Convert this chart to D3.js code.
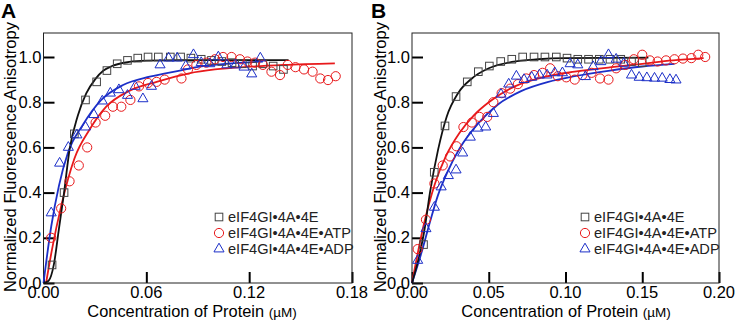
<!DOCTYPE html>
<html>
<head>
<meta charset="utf-8">
<script src="https://cdnjs.cloudflare.com/ajax/libs/d3/7.8.5/d3.min.js"></script>
<style>
  body { margin: 0; background: #fff; }
  text { font-family: Arial, "Liberation Sans", sans-serif; }
</style>
</head>
<body>
<svg id="chart" width="735" height="321"></svg>
<script>
"use strict";

// ---- data: [concentration (uM), anisotropy] ----

// panel A
var a_square = [[0.005,0.08],[0.012,0.40],[0.018,0.66],[0.0245,0.81],[0.031,0.89],[0.037,0.94],
    [0.043,0.97],[0.049,0.985],[0.055,0.995],[0.061,1.0],[0.067,1.0],[0.074,1.0],[0.080,1.0],
    [0.086,0.995],[0.092,0.99],[0.098,0.985],[0.104,0.98],[0.110,0.975],[0.116,0.97],
    [0.122,0.96],[0.128,0.97],[0.134,0.96],[0.140,0.945]];
var a_circle = [[0.0045,0.20],[0.0103,0.33],[0.0152,0.45],[0.0206,0.52],[0.0255,0.60],[0.0304,0.71],
    [0.036,0.74],[0.0405,0.78],[0.0454,0.78],[0.0507,0.81],[0.0557,0.87],[0.061,0.885],[0.066,0.89],
    [0.0707,0.90],[0.0805,0.905],[0.0843,0.945],[0.0892,0.965],[0.095,0.975],[0.100,0.99],
    [0.1048,1.0],[0.1097,1.0],[0.1146,0.99],[0.119,0.98],[0.1235,0.975],[0.128,0.965],[0.133,0.935],
    [0.138,0.92],[0.1425,0.965],[0.147,0.955],[0.152,0.945],[0.157,0.935],[0.1615,0.905],
    [0.166,0.898],[0.1705,0.915]];
var a_triangle = [[0.0045,0.31],[0.0094,0.53],[0.0145,0.60],[0.0195,0.655],[0.0245,0.69],[0.0294,0.745],
    [0.0343,0.805],[0.039,0.84],[0.044,0.855],[0.049,0.83],[0.0535,0.87],[0.058,0.815],[0.063,0.87],
    [0.068,0.965],[0.073,0.995],[0.078,0.995],[0.083,0.96],[0.0875,1.01],[0.092,0.975],[0.097,0.97],
    [0.102,1.0],[0.107,0.965],[0.112,0.965],[0.117,0.955],[0.1215,0.925],[0.1265,0.995]];
var a_fit_square = [[0,0],[0.003,0.01],[0.006,0.08],[0.009,0.24],[0.012,0.40],[0.0152,0.59],[0.02,0.74],
    [0.025,0.84],[0.03,0.90],[0.035,0.94],[0.04,0.96],[0.05,0.978],[0.06,0.984],[0.08,0.986],[0.143,0.986]];
var a_fit_circle = [[0.0015,0],[0.005,0.15],[0.0103,0.34],[0.018,0.55],[0.027,0.68],[0.0366,0.78],
    [0.05,0.85],[0.066,0.89],[0.085,0.928],[0.1,0.945],[0.12,0.957],[0.14,0.965],[0.17,0.972]];
var a_fit_triangle = [[0,0],[0.0045,0.25],[0.009,0.43],[0.0142,0.575],[0.023,0.70],[0.0337,0.81],
    [0.0464,0.876],[0.062,0.913],[0.0795,0.94],[0.091,0.957],[0.11,0.972],[0.128,0.98]];

// panel B
var b_square = [[0.0075,0.17],[0.0145,0.49],[0.0215,0.695],[0.0287,0.825],[0.036,0.89],[0.0432,0.935],
    [0.0504,0.96],[0.0578,0.98],[0.065,0.99],[0.0721,1.0],[0.0795,1.0],[0.0866,1.0],[0.094,1.0],
    [0.101,0.995],[0.108,0.99],[0.115,0.99],[0.122,0.99],[0.129,0.99],[0.136,0.99],[0.143,0.98],
    [0.150,0.975]];
var b_circle = [[0.0037,0.15],[0.0091,0.28],[0.0146,0.44],[0.020,0.52],[0.0248,0.56],[0.029,0.605],
    [0.0335,0.69],[0.039,0.71],[0.044,0.735],[0.049,0.735],[0.053,0.80],[0.0584,0.84],[0.064,0.86],
    [0.069,0.88],[0.0745,0.905],[0.0795,0.92],[0.085,0.93],[0.090,0.95],[0.095,0.915],[0.1005,0.91],
    [0.106,0.90],[0.111,0.92],[0.117,0.93],[0.1225,0.905],[0.128,0.90],[0.133,0.95],[0.139,0.965],
    [0.1445,0.99],[0.150,1.01],[0.155,0.985],[0.160,0.98],[0.1655,0.985],[0.171,0.99],[0.1765,0.993],
    [0.182,0.995],[0.1865,1.01],[0.191,1.0]];
var b_triangle = [[0.0037,0.10],[0.0091,0.24],[0.0146,0.335],[0.019,0.425],[0.0237,0.475],[0.0287,0.50],
    [0.033,0.575],[0.038,0.645],[0.043,0.685],[0.048,0.69],[0.053,0.75],[0.058,0.835],[0.063,0.88],
    [0.068,0.915],[0.073,0.90],[0.078,0.91],[0.083,0.92],[0.088,0.92],[0.093,0.93],[0.098,0.93],
    [0.103,0.97],[0.108,0.965],[0.113,0.913],[0.118,0.957],[0.123,0.979],[0.128,1.01],[0.133,0.99],
    [0.138,0.972],[0.143,0.92],[0.148,0.91],[0.153,0.908],[0.158,0.906],[0.163,0.906],[0.168,0.90],
    [0.172,0.898]];
var b_fit_square = [[0,0],[0.004,0.10],[0.008,0.23],[0.0117,0.40],[0.017,0.59],[0.0226,0.736],[0.03,0.84],
    [0.039,0.905],[0.05,0.95],[0.065,0.978],[0.082,0.99],[0.10,0.995],[0.154,0.997]];
var b_fit_circle = [[0,0],[0.0074,0.25],[0.015,0.44],[0.022,0.56],[0.031,0.665],[0.04,0.74],[0.05,0.80],
    [0.067,0.87],[0.087,0.913],[0.106,0.935],[0.13,0.955],[0.15,0.97],[0.17,0.985],[0.19,0.995]];
var b_fit_triangle = [[0,0],[0.006,0.13],[0.0117,0.27],[0.017,0.39],[0.023,0.49],[0.031,0.595],[0.043,0.705],
    [0.056,0.79],[0.0714,0.85],[0.0888,0.89],[0.106,0.915],[0.129,0.94],[0.15,0.958],[0.171,0.97]];

var y_ticks = [0.0, 0.2, 0.4, 0.6, 0.8, 1.0];
var a_x_ticks = [0.00, 0.06, 0.12, 0.18];
var b_x_ticks = [0.00, 0.05, 0.10, 0.15, 0.20];
var legend_labels = ["eIF4GI\u20224A\u20224E", "eIF4GI\u20224A\u20224E\u2022ATP", "eIF4GI\u20224A\u20224E\u2022ADP"];

var col_black = "#111", col_red = "#e8191b", col_blue = "#1c2fc8";
var svg = d3.select("#chart");

// draw one marker shape centred on 0,0
function add_marker(g, kind, color) {
    if (kind === "square") {
        g.append("rect").attr("x", -3.8).attr("y", -3.8).attr("width", 7.6).attr("height", 7.6)
            .attr("fill", "none").attr("stroke", "#444").attr("stroke-width", 1);
    } else if (kind === "circle") {
        g.append("circle").attr("r", 4.6)
            .attr("fill", "none").attr("stroke", color).attr("stroke-width", 1);
    } else {
        g.append("path").attr("d", d3.symbol(d3.symbolTriangle, 44)())
            .attr("fill", "none").attr("stroke", color).attr("stroke-width", 1);
    }
}

function draw_panel(opt) {
    var x = d3.scaleLinear().domain(opt.x_domain).range([opt.left, opt.right]);
    var y = d3.scaleLinear().domain([0, 1.1]).range([283, 283 - 1.1 * 226]);
    var g = svg.append("g");

    // inward ticks on left and bottom
    g.append("g").attr("transform", "translate(" + opt.left + ",0)")
        .call(d3.axisRight(y).tickValues(y_ticks).tickSize(11).tickFormat(""))
        .call(function(s) { s.select(".domain").remove(); s.selectAll("line").attr("stroke-width", 2); });
    g.append("g").attr("transform", "translate(0,283)")
        .call(d3.axisTop(x).tickValues(opt.x_ticks).tickSize(11).tickFormat(""))
        .call(function(s) { s.select(".domain").remove(); s.selectAll("line").attr("stroke-width", 2); });

    // tick labels
    g.selectAll(".ylab").data(y_ticks).enter().append("text")
        .attr("x", opt.left - 2).attr("y", function(d) { return y(d) + 5.5; })
        .attr("text-anchor", "end").attr("font-size", 16.5).text(function(d) { return d.toFixed(1); });
    g.selectAll(".xlab").data(opt.x_ticks).enter().append("text")
        .attr("x", function(d) { return x(d); }).attr("y", 298)
        .attr("text-anchor", "middle").attr("font-size", 16.5).text(function(d) { return d.toFixed(2); });

    // frame
    g.append("rect").attr("x", opt.left).attr("y", 33)
        .attr("width", opt.right - opt.left).attr("height", 250)
        .attr("fill", "none").attr("stroke", "#222").attr("stroke-width", 1);

    // fitted curves
    var line = d3.line().x(function(d) { return x(d[0]); }).y(function(d) { return y(d[1]); })
        .curve(d3.curveMonotoneX);
    var fits = [[opt.fit_circle, col_red], [opt.fit_triangle, col_blue], [opt.fit_square, col_black]];
    fits.forEach(function(f) {
        g.append("path").datum(f[0]).attr("d", line)
            .attr("fill", "none").attr("stroke", f[1]).attr("stroke-width", 1.8);
    });

    // data points
    var sets = [[opt.square, "square", "#444"], [opt.circle, "circle", col_red], [opt.triangle, "triangle", col_blue]];
    sets.forEach(function(s) {
        g.selectAll(null).data(s[0]).enter().append("g")
            .attr("transform", function(d) { return "translate(" + x(d[0]) + "," + y(d[1]) + ")"; })
            .each(function() { add_marker(d3.select(this), s[1], s[2]); });
    });

    // legend
    var kinds = [["square", "#444"], ["circle", col_red], ["triangle", col_blue]];
    legend_labels.forEach(function(lab, i) {
        var ly = 217 + i * 16;
        var lg = g.append("g").attr("transform", "translate(" + opt.legend_x + "," + ly + ")");
        add_marker(lg, kinds[i][0], kinds[i][1]);
        lg.append("text").attr("x", 9).attr("y", 5).attr("font-size", 14.6).attr("fill", "#222").text(lab);
    });

    // axis titles
    svg.append("text")
        .attr("transform", "translate(" + opt.ylab_x + ",157) rotate(-90)")
        .attr("text-anchor", "middle").attr("font-size", 16.6).text("Normalized Fluorescence Anisotropy");
    var xt = svg.append("text").attr("x", opt.xlab_x).attr("y", 317)
        .attr("text-anchor", "middle").attr("font-size", 16.4);
    xt.append("tspan").text("Concentration of Protein ");
    xt.append("tspan").attr("font-size", 13.5).text("(\u00b5M)");

    // panel letter
    svg.append("text").attr("x", opt.letter_x).attr("y", 18)
        .attr("font-size", 21).attr("font-weight", "bold").text(opt.letter);
}

draw_panel({
    letter: "A", letter_x: 1, left: 43.5, right: 352, x_domain: [0, 0.18], x_ticks: a_x_ticks,
    square: a_square, circle: a_circle, triangle: a_triangle,
    fit_square: a_fit_square, fit_circle: a_fit_circle, fit_triangle: a_fit_triangle,
    legend_x: 219, ylab_x: 16, xlab_x: 192
});
draw_panel({
    letter: "B", letter_x: 371, left: 412, right: 719, x_domain: [0, 0.20], x_ticks: b_x_ticks,
    square: b_square, circle: b_circle, triangle: b_triangle,
    fit_square: b_fit_square, fit_circle: b_fit_circle, fit_triangle: b_fit_triangle,
    legend_x: 585, ylab_x: 386, xlab_x: 566
});
</script>
</body>
</html>
